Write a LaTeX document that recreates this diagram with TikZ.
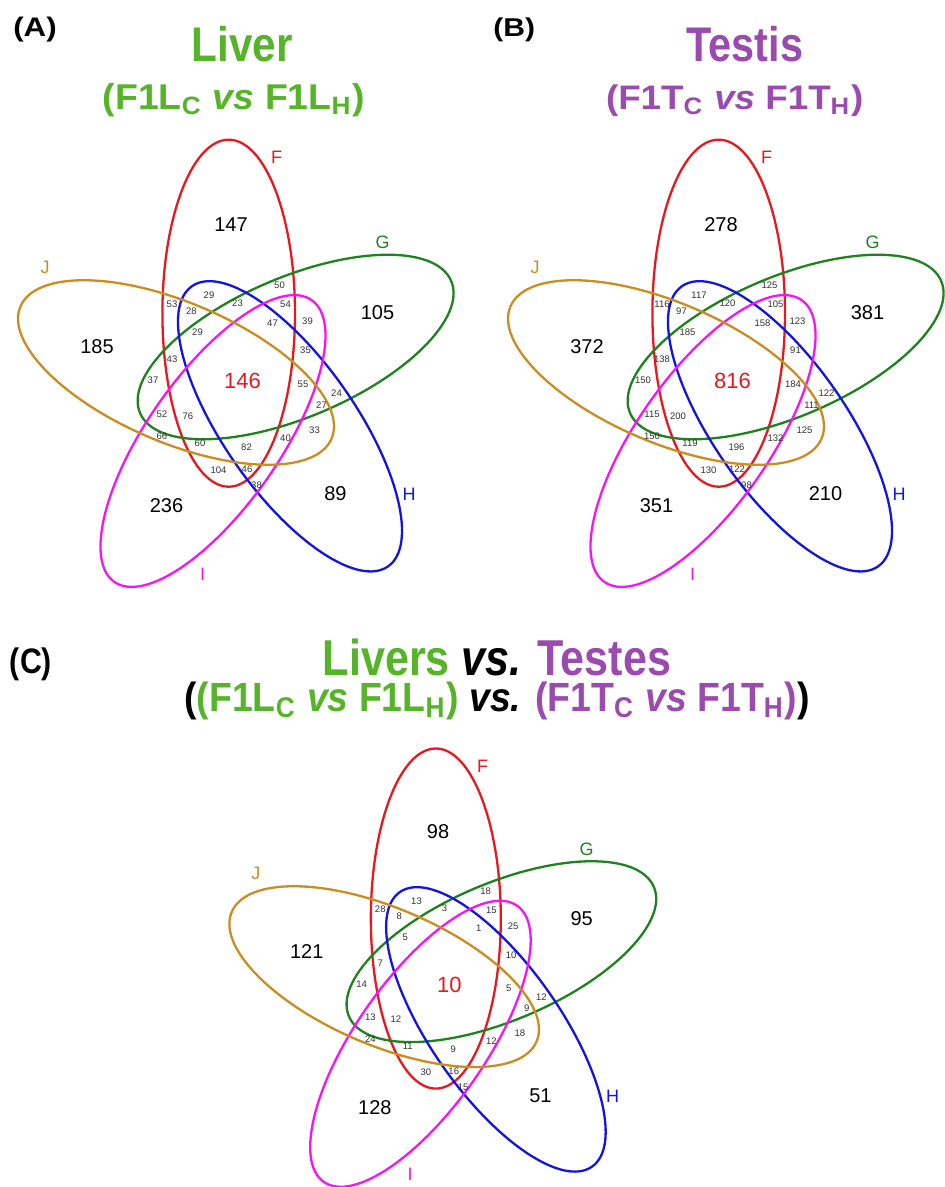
\documentclass[tikz,border=0pt]{standalone}
\usepackage{fontspec}
\setmainfont{Liberation Sans}
\usepackage{graphicx}
\definecolor{cF}{RGB}{230,25,30}
\definecolor{cG}{RGB}{30,130,30}
\definecolor{cH}{RGB}{20,20,225}
\definecolor{cI}{RGB}{245,20,245}
\definecolor{cJ}{RGB}{205,140,30}
\definecolor{tgreen}{RGB}{85,180,40}
\definecolor{tpurple}{RGB}{155,75,175}
\definecolor{smalltxt}{RGB}{50,50,50}
\tikzset{
  ell/.style={line width=2.3pt},
  setF/.style={ell, draw=cF},
  setG/.style={ell, draw=cG},
  setH/.style={ell, draw=cH},
  setI/.style={ell, draw=cI},
  setJ/.style={ell, draw=cJ},
  bignum/.style={font=\fontsize{20}{20}\selectfont, text=black, inner sep=0pt},
  cnum/.style={font=\fontsize{22}{22}\selectfont, text=cF, inner sep=0pt},
  smallnum/.style={font=\fontsize{9.5}{9.5}\selectfont, text=smalltxt, inner sep=0pt},
  setlab/.style={font=\fontsize{18}{18}\selectfont, inner sep=0pt},
  ttl/.style={inner sep=0pt, font=\bfseries},
}
\def\BX{{231,377.5,97,166.5,335.5}}
\def\BY{{225,313,347,506,493.5}}
\def\SX{{279.5,209,172,191.5,237.5,285.5,272.5,307.5,197.5,305.5,172,153,303,336.5,321.5,162,188,314.5,162,285.5,200,246.5,218.5,247,256.5}}
\def\SY{{285.5,295.5,304,311,303,304.5,323,321.5,332,350.5,359,380,384,393,405,414,416,430.5,436.5,438.5,443.5,447,470.5,469.5,485.5}}
\newcommand\vennpanel[4]{%
  \draw[setF, rotate around={90:(228.7,313.2)}] (228.7,313.2) ellipse [x radius=173.5, y radius=66.3];
  \draw[setG, rotate around={23:(295.6,347)}] (295.6,347) ellipse [x radius=169, y radius=70];
  \draw[setH, rotate around={-55:(290,426.3)}] (290,426.3) ellipse [x radius=171, y radius=66];
  \draw[setI, rotate around={55:(213,441)}] (213,441) ellipse [x radius=172, y radius=66];
  \draw[setJ, rotate around={-23:(176,372.5)}] (176,372.5) ellipse [x radius=169, y radius=70];
  \foreach \v [count=\i from 0] in {#2} {%
    \pgfmathsetmacro\px{\BX[\i]}\pgfmathsetmacro\py{\BY[\i]}%
    \node[bignum] (#1b\i) at (\px,\py) {\v};}
  \node[cnum] (#1c) at (242.5,381) {#3};
  \foreach \v [count=\i from 0] in {#4} {%
    \pgfmathsetmacro\px{\SX[\i]}\pgfmathsetmacro\py{\SY[\i]}%
    \node[smallnum] (#1s\i) at (\px,\py) {\v};}
  \node[setlab, text=cF] (#1labF) at (276.5,157.5) {F};
  \node[setlab, text=cG] (#1labG) at (382.5,242.5) {G};
  \node[setlab, text=cH] (#1labH) at (409,494.5) {H};
  \node[setlab, text=cI] (#1labI) at (202.5,574) {I};
  \node[setlab, text=cJ] (#1labJ) at (45,267.5) {J};
}
\begin{document}
\begin{tikzpicture}[x=1pt,y=-1pt]
\fill[white] (0,0) rectangle (945,1187);
\useasboundingbox (0,0) rectangle (945,1187);
% titles
\node[ttl] (labA) at (35,29.2) {\resizebox*{43.4pt}{25pt}{(A)}};
\node[ttl] (labB) at (514.2,30) {\resizebox*{41.7pt}{24pt}{(B)}};
\node[ttl] (labC) at (31,664) {\resizebox*{42pt}{33pt}{(C)}};
\node[ttl, text=tgreen] (tA1) at (242.2,43.9) {\resizebox*{101pt}{35.7pt}{Liver}};
\node[ttl, text=tgreen] (tA2) at (233.8,100) {\resizebox*{262pt}{33.4pt}{(F1L\textsubscript{C} \textit{vs} F1L\textsubscript{H})}};
\node[ttl, text=tpurple] (tB1) at (745,43.9) {\resizebox*{116.7pt}{35.7pt}{Testis}};
\node[ttl, text=tpurple] (tB2) at (734.7,100.8) {\resizebox*{257.3pt}{31.7pt}{(F1T\textsubscript{C} \textit{vs} F1T\textsubscript{H})}};
\node[ttl] (tC1) at (497,657) {\resizebox*{348pt}{37pt}{{\color{tgreen}Livers} \textit{vs.} {\color{tpurple}Testes}}};
\node[ttl] (tC2) at (497,701) {\resizebox*{625pt}{38pt}{({\color{tgreen}(F1L\textsubscript{C} \textit{vs} F1L\textsubscript{H})} \textit{vs.} {\color{tpurple}(F1T\textsubscript{C} \textit{vs} F1T\textsubscript{H})})}};
% panels
\begin{scope}
\vennpanel{A}{147,105,185,236,89}{146}{50,29,53,28,23,54,47,39,29,35,43,37,55,24,27,52,76,33,66,40,60,82,104,46,38}
\end{scope}
\begin{scope}[shift={(490,0)}]
\vennpanel{B}{278,381,372,351,210}{816}{125,117,116,97,120,105,158,123,185,91,138,150,184,122,111,115,200,125,150,132,119,196,130,122,98}
\end{scope}
\begin{scope}[shift={(211.7,611.6)}, scale=0.98]
\vennpanel{C}{98,95,121,128,51}{10}{18,13,28,8,3,15,1,25,5,10,7,14,5,12,9,13,12,18,24,12,11,9,30,16,15}
\end{scope}
\end{tikzpicture}
\end{document}
